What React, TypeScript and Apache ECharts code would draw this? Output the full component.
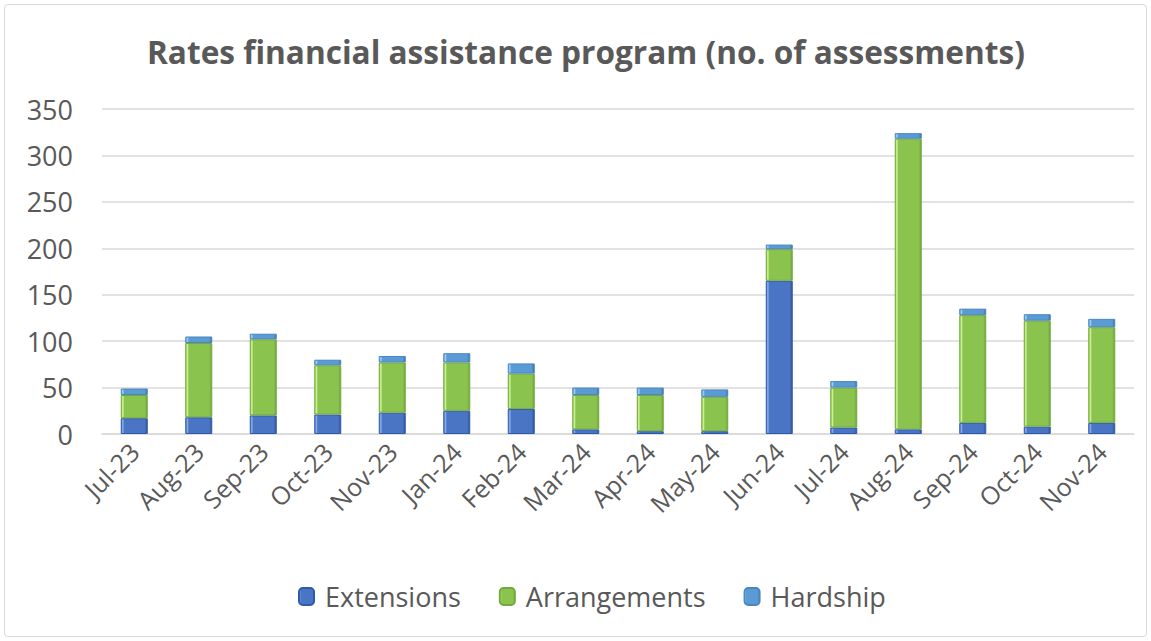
import React, { useEffect, useRef } from "react";
import * as echarts from "echarts";

const categories = ["Jul-23","Aug-23","Sep-23","Oct-23","Nov-23","Jan-24","Feb-24","Mar-24","Apr-24","May-24","Jun-24","Jul-24","Aug-24","Sep-24","Oct-24","Nov-24"];
const extensions = [17, 18, 20, 21, 23, 25, 27, 5, 3, 3, 165, 7, 5, 12, 8, 12];
const arrangements = [25, 80, 82, 53, 54, 52, 38, 37, 39, 37, 34, 43, 313, 116, 114, 103];
const hardship = [7, 7, 6, 6, 7, 10, 11, 8, 8, 8, 5, 7, 6, 7, 7, 9];
const yTicks = [0, 50, 100, 150, 200, 250, 300, 350];

const FONT = "'Open Sans', 'Noto Sans', sans-serif";
const TXT = "#595959";

function grad(light: string, base: string, dark: string) {
  return new echarts.graphic.LinearGradient(0, 0, 1, 0, [
    { offset: 0, color: base },
    { offset: 0.06, color: light },
    { offset: 0.12, color: base },
    { offset: 0.9, color: base },
    { offset: 1, color: dark },
  ]);
}

export default function App() {
  const ref = useRef<HTMLDivElement>(null);
  useEffect(() => {
    if (!ref.current) return;
    const chart = echarts.init(ref.current, undefined, { renderer: "svg" });
    const barW = 27;
    chart.setOption({
      animation: false,
      backgroundColor: "#ffffff",
      title: {
        text: "Rates financial assistance program (no. of assessments)",
        left: 142,
        top: 30,
        textStyle: { fontFamily: FONT, fontSize: 31.6, fontWeight: "bold", color: TXT },
      },
      legend: {
        bottom: 26,
        left: 293,
        itemWidth: 15,
        itemHeight: 17,
        itemGap: 38,
        textStyle: { fontFamily: FONT, fontSize: 27, color: TXT, padding: [0, 0, 0, 6] },
        data: ["Extensions", "Arrangements", "Hardship"],
      },
      grid: { left: 102, right: 17, top: 109, bottom: 207, containLabel: false },
      xAxis: {
        type: "category",
        data: categories,
        axisTick: { show: false },
        axisLine: { show: true, lineStyle: { color: "#d9d9d9", width: 1.5 } },
        axisLabel: { rotate: 45, fontFamily: FONT, fontSize: 25, color: TXT, margin: 13, interval: 0 },
      },
      yAxis: {
        type: "value",
        min: 0,
        max: yTicks[yTicks.length - 1],
        interval: 50,
        axisLine: { show: false },
        axisTick: { show: false },
        splitLine: { lineStyle: { color: "#d9d9d9", width: 1.5 } },
        axisLabel: { fontFamily: FONT, fontSize: 27, color: TXT, margin: 29 },
      },
      series: [
        {
          name: "Extensions",
          type: "bar",
          stack: "total",
          barWidth: barW,
          data: extensions,
          itemStyle: { color: grad("#8fb0ea", "#4a74c4", "#2f5597"), borderColor: "#2f5aa8", borderWidth: 1 },
        },
        {
          name: "Arrangements",
          type: "bar",
          stack: "total",
          barWidth: barW,
          data: arrangements,
          itemStyle: { color: grad("#d4f59a", "#8bc34f", "#6fa43a"), borderColor: "#72ab3c", borderWidth: 1 },
        },
        {
          name: "Hardship",
          type: "bar",
          stack: "total",
          barWidth: barW,
          data: hardship,
          itemStyle: { color: grad("#a9d0f2", "#5b9bd5", "#41719c"), borderColor: "#4a86c0", borderWidth: 1 },
        },
      ],
    });
    return () => chart.dispose();
  }, []);
  return (
    <div style={{ position: "fixed", left: 0, top: 0, width: 1151, height: 641, background: "#fff" }}>
      <div
        ref={ref}
        style={{ position: "absolute", left: 0, top: 0, width: 1151, height: 641 }}
      />
      <div
        style={{
          position: "absolute",
          left: 4,
          top: 4,
          width: 1141,
          height: 631,
          border: "1px solid #d9d9d9",
          borderRadius: 4,
          pointerEvents: "none",
        }}
      />
    </div>
  );
}
